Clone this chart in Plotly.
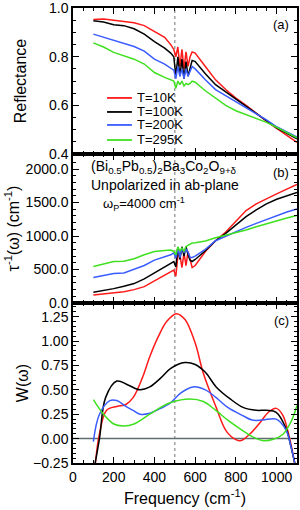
import plotly.graph_objects as go

# ---------------- data ----------------
freq = [100, 150, 200, 250, 300, 350, 400, 450, 480, 495, 505, 515, 525, 535, 545,
        555, 565, 575, 585, 600, 650, 700, 750, 800, 850, 900, 950, 1000, 1050, 1100]

refl_10K = [0.953, 0.955, 0.950, 0.946, 0.940, 0.928, 0.905, 0.880, 0.850, 0.830, 0.800,
            0.840, 0.760, 0.830, 0.750, 0.820, 0.760, 0.800, 0.820, 0.815, 0.760, 0.705,
            0.665, 0.630, 0.600, 0.566, 0.535, 0.505, 0.478, 0.448]
refl_100K = [0.948, 0.943, 0.932, 0.928, 0.915, 0.893, 0.862, 0.835, 0.815, 0.800, 0.720,
             0.800, 0.720, 0.790, 0.710, 0.780, 0.720, 0.750, 0.785, 0.780, 0.730, 0.685,
             0.655, 0.625, 0.598, 0.566, 0.535, 0.507, 0.485, 0.462]
refl_200K = [0.893, 0.880, 0.866, 0.853, 0.842, 0.823, 0.790, 0.770, 0.755, 0.745, 0.710,
             0.760, 0.720, 0.750, 0.710, 0.750, 0.720, 0.740, 0.760, 0.750, 0.705, 0.665,
             0.640, 0.615, 0.593, 0.568, 0.540, 0.512, 0.492, 0.470]
refl_295K = [0.857, 0.840, 0.818, 0.805, 0.790, 0.770, 0.735, 0.715, 0.703, 0.700, 0.670,
             0.700, 0.685, 0.700, 0.680, 0.690, 0.685, 0.690, 0.700, 0.695, 0.660, 0.630,
             0.600, 0.578, 0.562, 0.548, 0.530, 0.510, 0.489, 0.466]

tau_10K = [120, 135, 150, 170, 200, 245, 330, 410, 470, 490, 400, 700, 720, 530, 750,
           560, 770, 640, 530, 560, 770, 930, 1060, 1220, 1380, 1480, 1560, 1630, 1700, 1770]
tau_100K = [160, 185, 215, 250, 290, 360, 450, 540, 600, 620, 540, 830, 650, 840, 700,
            840, 720, 640, 620, 650, 780, 930, 1040, 1170, 1290, 1390, 1480, 1550, 1600, 1650]
tau_200K = [381, 410, 440, 450, 500, 560, 640, 690, 720, 750, 670, 820, 680, 820, 750,
            800, 760, 680, 680, 700, 800, 930, 1000, 1060, 1130, 1190, 1250, 1310, 1360, 1405]
tau_295K = [546, 580, 620, 625, 660, 720, 770, 785, 790, 770, 720, 840, 775, 820, 770,
            845, 860, 880, 895, 900, 925, 975, 1010, 1050, 1090, 1140, 1185, 1230, 1270, 1308]

w_freq_10K = [110, 130, 165, 215, 260, 295, 340, 377, 420, 460, 508, 550, 600, 640, 703,
              752, 800, 826, 870, 917, 960, 998, 1030, 1064, 1090]
w_10K = [-0.25, 0.05, 0.29, 0.33, 0.35, 0.42, 0.62, 0.84, 1.05, 1.20, 1.28, 1.22, 0.98,
         0.67, 0.32, 0.08, -0.01, -0.02, 0.05, 0.16, 0.27, 0.31, 0.24, 0.0, -0.27]
w_freq_100K = [108, 130, 160, 215, 270, 328, 377, 430, 480, 549, 600, 650, 703, 770, 835,
               900, 950, 998, 1047, 1070, 1090]
w_100K = [-0.26, 0.0, 0.42, 0.59, 0.55, 0.50, 0.53, 0.62, 0.72, 0.78, 0.76, 0.68, 0.53,
          0.41, 0.32, 0.29, 0.29, 0.27, 0.10, -0.08, -0.26]
w_freq_200K = [100, 130, 181, 215, 260, 295, 330, 377, 430, 475, 530, 590, 650, 703, 760,
               835, 880, 931, 998, 1047, 1070, 1090]
w_200K = [-0.03, 0.25, 0.39, 0.39, 0.33, 0.29, 0.25, 0.26, 0.31, 0.36, 0.47, 0.53, 0.50,
          0.42, 0.32, 0.234, 0.19, 0.19, 0.20, 0.085, -0.08, -0.26]
w_freq_295K = [100, 150, 200, 246, 300, 377, 430, 480, 574, 640, 703, 760, 835, 880, 931,
               980, 1031, 1070, 1100]
w_295K = [0.40, 0.25, 0.15, 0.13, 0.15, 0.25, 0.32, 0.37, 0.406, 0.38, 0.286, 0.19, 0.08,
          0.02, -0.02, -0.01, 0.045, 0.17, 0.34]

labels = ["T=10K", "T=100K", "T=200K", "T=295K"]
colors = ["#ff1a1a", "#000000", "#3a5cff", "#3fe01f"]

# ---------------- figure ----------------
fig = go.Figure()
refl = [refl_10K, refl_100K, refl_200K, refl_295K]
tau = [tau_10K, tau_100K, tau_200K, tau_295K]
wf = [w_freq_10K, w_freq_100K, w_freq_200K, w_freq_295K]
wv = [w_10K, w_100K, w_200K, w_295K]

for i in range(4):
    fig.add_trace(go.Scatter(x=freq, y=refl[i], mode="lines", name=labels[i],
                             line=dict(color=colors[i], width=1.5),
                             xaxis="x3", yaxis="y3"))
for i in range(4):
    fig.add_trace(go.Scatter(x=freq, y=tau[i], mode="lines", name=labels[i],
                             line=dict(color=colors[i], width=1.5),
                             xaxis="x2", yaxis="y2"))
for i in range(4):
    fig.add_trace(go.Scatter(x=wf[i], y=wv[i], mode="lines", name=labels[i],
                             line=dict(color=colors[i], width=1.5, shape="spline"),
                             xaxis="x", yaxis="y"))

FONT = "Liberation Sans, Arial, sans-serif"
axis_common = dict(showline=True, linecolor="black", linewidth=1.5, mirror="allticks",
                   ticks="inside", ticklen=6, tickwidth=1.2, tickcolor="black",
                   showgrid=False, zeroline=False, automargin=False,
                   tickfont=dict(family=FONT, size=14, color="black"))

xr = [0, 1100]
xminor = dict(dtick=50, ticks="inside", ticklen=3, tickcolor="black", tickwidth=1)

fig.update_layout(
    width=300, height=510,
    margin=dict(l=73, r=3, t=8, b=47),
    paper_bgcolor="white", plot_bgcolor="white",
    font=dict(family=FONT, size=13, color="black"),
    showlegend=False,
    xaxis=dict(axis_common, range=xr, dtick=200, anchor="y", minor=xminor,
               title=dict(text="Frequency (cm<sup>-1</sup>)", font=dict(size=16), standoff=9)),
    xaxis2=dict(axis_common, range=xr, dtick=200, anchor="y2", matches="x",
                showticklabels=False, minor=xminor),
    xaxis3=dict(axis_common, range=xr, dtick=200, anchor="y3", matches="x",
                showticklabels=False, minor=xminor),
    yaxis=dict(axis_common, domain=[0, 0.3516], range=[-0.25, 1.39], dtick=0.25,
               tick0=0, tickformat=".2f",
               minor=dict(dtick=0.05, ticks="inside", ticklen=3, tickcolor="black"),
               title=dict(text="W(ω)", font=dict(size=16), standoff=0)),
    yaxis2=dict(axis_common, domain=[0.3516, 0.6791], range=[0, 2225], dtick=500,
                tickformat=".1f",
                minor=dict(dtick=100, ticks="inside", ticklen=3, tickcolor="black"),
                title=dict(text="τ<sup>-1</sup>(ω) (cm<sup>-1</sup>)", font=dict(size=16),
                           standoff=2)),
    yaxis3=dict(axis_common, domain=[0.6791, 1], range=[0.3999, 1.0005], dtick=0.2,
                tick0=0, tickformat=".1f",
                minor=dict(dtick=0.05, ticks="inside", ticklen=3, tickcolor="black"),
                title=dict(text="Reflectance", font=dict(size=16), standoff=18)),
)

# reference lines
fig.add_shape(type="line", xref="x", yref="paper", x0=500, x1=500, y0=0, y1=1,
              line=dict(color="#8a8a8a", width=1.2, dash="dot"), layer="below")
fig.add_shape(type="line", xref="x domain", yref="y", x0=0, x1=1, y0=0, y1=0,
              line=dict(color="#5f6f6f", width=1.5), layer="below")

# legend drawn inside panel (a)
leg_pos = [0.384, 0.288, 0.199, 0.096]
for i in range(4):
    yy = leg_pos[i]
    fig.add_shape(type="line", xref="x3 domain", yref="y3 domain", x0=0.152, x1=0.263,
                  y0=yy, y1=yy, line=dict(color=colors[i], width=1.8))
    fig.add_annotation(text=labels[i], xref="x3 domain", yref="y3 domain", x=0.275, y=yy,
                       xanchor="left", yanchor="middle", showarrow=False,
                       font=dict(family=FONT, size=13, color="black"))

ann = dict(showarrow=False, font=dict(family=FONT, size=13, color="black"))
fig.add_annotation(ann, text="(a)", xref="paper", yref="paper", x=0.975, y=0.985,
                   xanchor="right", yanchor="top")
fig.add_annotation(ann, text="(b)", xref="paper", yref="paper", x=0.975, y=0.66,
                   xanchor="right", yanchor="top")
fig.add_annotation(ann, text="(c)", xref="paper", yref="paper", x=0.975, y=0.335,
                   xanchor="right", yanchor="top")
fig.add_annotation(showarrow=False, font=dict(family=FONT, size=14, color="black"),
                   text="(Bi<sub>0.5</sub>Pb<sub>0.5</sub>)<sub>2</sub>Ba<sub>3</sub>Co<sub>2</sub>O<sub>9+δ</sub>",
                   xref="paper", yref="paper", x=0.07, y=0.675, xanchor="left", yanchor="top")
fig.add_annotation(showarrow=False, font=dict(family=FONT, size=14, color="black"),
                   text="Unpolarized in ab-plane",
                   xref="paper", yref="paper", x=0.07, y=0.634, xanchor="left", yanchor="top")
fig.add_annotation(showarrow=False, font=dict(family=FONT, size=13, color="black"),
                   text="ω<sub>P</sub>=4000 cm<sup>-1</sup>",
                   xref="paper", yref="paper", x=0.125, y=0.594, xanchor="left", yanchor="top")

fig.write_html("out.html", config={"displayModeBar": False},
               post_script="document.body.style.margin='0px';document.body.style.overflow='hidden';")
